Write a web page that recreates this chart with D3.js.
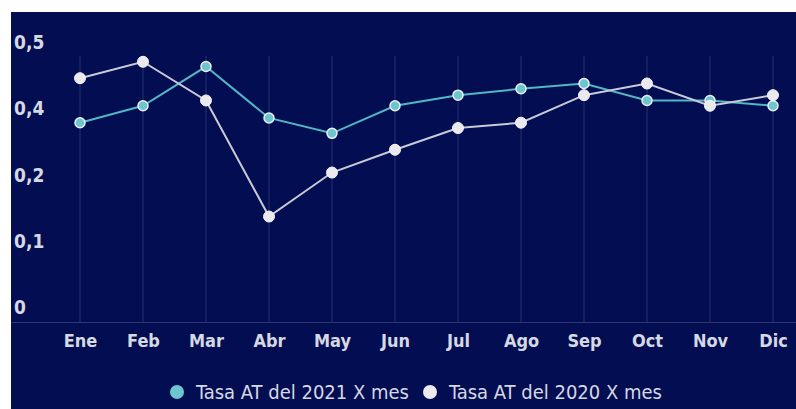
<!DOCTYPE html>
<html>
<head>
<meta charset="utf-8">
<script src="https://cdn.jsdelivr.net/npm/d3@7"></script>
<style>
  html, body { margin: 0; padding: 0; background: #ffffff; }
  svg { display: block; }
  text { font-family: "Liberation Sans Narrow", "DejaVu Sans Condensed", "Roboto", sans-serif; }
</style>
</head>
<body>
<div id="chart"></div>
<script>
// Data
const months = ["Ene", "Feb", "Mar", "Abr", "May", "Jun", "Jul", "Ago", "Sep", "Oct", "Nov", "Dic"];
const rate2021 = [0.376, 0.408, 0.482, 0.385, 0.356, 0.408, 0.428, 0.440, 0.450, 0.418, 0.418, 0.408];
const rate2020 = [0.460, 0.491, 0.418, 0.199, 0.282, 0.325, 0.366, 0.376, 0.428, 0.450, 0.408, 0.428];
const yTickValues = [0, 0.125, 0.25, 0.375, 0.5];
const yTickLabels = ["0", "0,1", "0,2", "0,4", "0,5"];
const seriesNames = ["Tasa AT del 2021 X mes", "Tasa AT del 2020 X mes"];

const W = 796, H = 409;
const panel = {x: 11, y: 12, w: 785, h: 397};
const margin = {top: 57, bottom: 87, left: 80, right: 23};

const svg = d3.select("#chart")
  .append("svg")
    .attr("width", W)
    .attr("height", H);

svg.append("rect")
  .attr("x", panel.x).attr("y", panel.y)
  .attr("width", panel.w).attr("height", panel.h)
  .attr("fill", "#020d52");

const x = d3.scalePoint()
  .domain(months)
  .range([margin.left, W - margin.right]);

const y = d3.scaleLinear()
  .domain([0, 0.5])
  .range([H - margin.bottom, margin.top]);

// vertical grid lines
svg.append("g")
  .selectAll("line")
  .data(months)
  .join("line")
    .attr("x1", d => x(d)).attr("x2", d => x(d))
    .attr("y1", y(0.5) - 1).attr("y2", y(0))
    .attr("stroke", "#27326f")
    .attr("stroke-width", 1);

// baseline
svg.append("line")
  .attr("x1", panel.x).attr("x2", W)
  .attr("y1", y(0) + 0.5).attr("y2", y(0) + 0.5)
  .attr("stroke", "#2c3672")
  .attr("stroke-width", 1);

// y labels (sit above their value)
svg.append("g")
  .selectAll("text")
  .data(yTickValues)
  .join("text")
    .attr("x", 14)
    .attr("y", d => y(d) - 8)
    .attr("fill", "#d6d8e2")
    .style("font-size", "19px")
    .style("font-weight", "bold")
    .text((d, i) => yTickLabels[i]);

// x axis labels
const xAxis = svg.append("g")
  .attr("transform", `translate(0, ${y(0)})`)
  .call(d3.axisBottom(x).tickSize(0).tickPadding(12));
xAxis.select(".domain").remove();
xAxis.selectAll("text")
  .attr("fill", "#d6d8e2")
  .style("font-size", "18px")
  .style("font-weight", "bold")
  .attr("dy", "0.71em");

const line = d3.line()
  .x((d, i) => x(months[i]))
  .y(d => y(d));

svg.append("path")
  .datum(rate2021)
  .attr("d", line)
  .attr("fill", "none")
  .attr("stroke", "#52b6c6")
  .attr("stroke-width", 2);

svg.append("path")
  .datum(rate2020)
  .attr("d", line)
  .attr("fill", "none")
  .attr("stroke", "#c9cad6")
  .attr("stroke-width", 2);

svg.append("g")
  .selectAll("circle")
  .data(rate2021)
  .join("circle")
    .attr("cx", (d, i) => x(months[i]))
    .attr("cy", d => y(d))
    .attr("r", 5)
    .attr("fill", "#6cc6d0")
    .attr("stroke", "#eeeef2")
    .attr("stroke-width", 1.5);

svg.append("g")
  .selectAll("circle")
  .data(rate2020)
  .join("circle")
    .attr("cx", (d, i) => x(months[i]))
    .attr("cy", d => y(d))
    .attr("r", 5.5)
    .attr("fill", "#e9e9ee")
    .attr("stroke", "#f4f4f6")
    .attr("stroke-width", 1);

// legend
const legendColors = ["#6cc6d0", "#ebebef"];
const legendX = [177, 430];
const legend = svg.append("g");
seriesNames.forEach((name, i) => {
  legend.append("circle")
    .attr("cx", legendX[i]).attr("cy", 392)
    .attr("r", 7)
    .attr("fill", legendColors[i]);
  legend.append("text")
    .attr("x", legendX[i] + 19)
    .attr("y", 392)
    .attr("dy", "0.35em")
    .attr("fill", "#d6d8e2")
    .style("font-size", "20px")
    .text(name);
});
</script>
</body>
</html>
